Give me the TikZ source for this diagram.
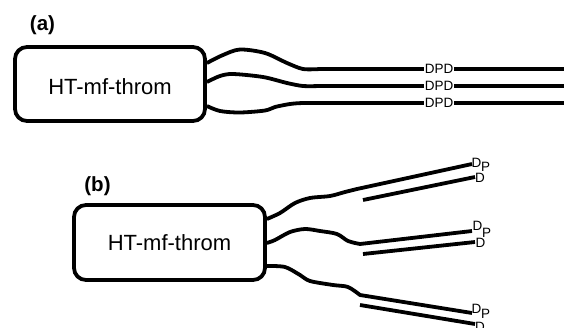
\documentclass[tikz,border=0pt]{standalone}
\usepackage{fontspec}
\setmainfont{Liberation Sans}
\begin{document}
\begin{tikzpicture}[x=1pt,y=-1pt,
  fiber/.style={line width=3.8pt, line join=round},
  core/.style={draw, line width=3.8pt, rounded corners=12pt,
    minimum width=190pt, minimum height=74pt, inner sep=0pt,
    font=\fontsize{22}{26}\selectfont},
  tag/.style={fill=white, inner sep=1pt, font=\fontsize{13.5}{15}\selectfont},
  endlbl/.style={inner sep=0pt, font=\fontsize{13.5}{15}\selectfont},
  panel/.style={inner sep=0pt, font=\bfseries\fontsize{20.5}{24}\selectfont}]
\clip (0,0) rectangle (564,327);

% ---------- (a) straight chains ----------
\node[panel] (lbla) at (42.5,25) {(a)};
\node[core, text height=20pt, text depth=0pt] (boxa) at (110,84) {HT-mf-throm};

\coordinate (a1) at ([yshift=21pt]boxa.east);
\coordinate (a2) at ([yshift=2pt]boxa.east);
\coordinate (a3) at ([yshift=-22pt]boxa.east);

\draw[fiber] plot[smooth] coordinates {(a1) (223,55) (240,49.5) (265,53) (287,63) (303,69) (320,69)} -- (564,69);
\draw[fiber] plot[smooth] coordinates {(a2) (220,76) (233,74) (263,77) (287,83) (303,86) (320,86)} -- (564,86);
\draw[fiber] plot[smooth] coordinates {(a3) (220,111) (240,112.5) (265,110.5) (275,107) (290,104) (303,103) (320,103)} -- (564,103);

\node[tag] (ta1) at (439,69) {DPD};
\node[tag] (ta2) at (439,86) {DPD};
\node[tag] (ta3) at (439,103) {DPD};

% ---------- (b) folded chains ----------
\node[panel] (lblb) at (97.5,186) {(b)};
\node[core, minimum width=191pt, minimum height=75pt] (boxb) at (169.5,242.5) {HT-mf-throm};

\coordinate (b1) at ([yshift=23.5pt]boxb.east);
\coordinate (b2) at ([yshift=-0.5pt]boxb.east);
\coordinate (b3) at ([yshift=-23.5pt]boxb.east);

% first chain
\draw[fiber] plot[smooth] coordinates {(b1) (280,213) (295,203) (310,198) (330,196) (345,192) (357,189)} -- (472,164);
\coordinate (r1) at (363,200);
\coordinate (e1) at (475,177);
\draw[fiber] (r1) -- (e1);
\node[endlbl] (d1a) at (476.5,162.5) {D};
\node[endlbl] (p1) at (485.5,167) {P};
\node[endlbl] (d1b) at (480,177.5) {D};

% second chain
\draw[fiber] plot[smooth] coordinates {(b2) (275,240) (290,232) (305,229) (320,231) (337,234) (348,241) (360,244)} -- (472,231);
\coordinate (r2) at (363,254);
\coordinate (e2) at (475,242);
\draw[fiber] (r2) -- (e2);
\node[endlbl] (d2a) at (477.5,226) {D};
\node[endlbl] (p2) at (486.5,232.5) {P};
\node[endlbl] (d2b) at (480.5,242.5) {D};

% third chain
\draw[fiber] plot[smooth] coordinates {(b3) (285,267) (300,275) (310,281) (333,285) (348,287) (360,295)} -- (472,313);
\coordinate (r3) at (360,305);
\coordinate (e3) at (475,324);
\draw[fiber] (r3) -- (e3);
\node[endlbl] (d3a) at (476.5,308.5) {D};
\node[endlbl] (p3) at (485.5,314) {P};
\node[endlbl] (d3b) at (480,326.5) {D};
\end{tikzpicture}
\end{document}
